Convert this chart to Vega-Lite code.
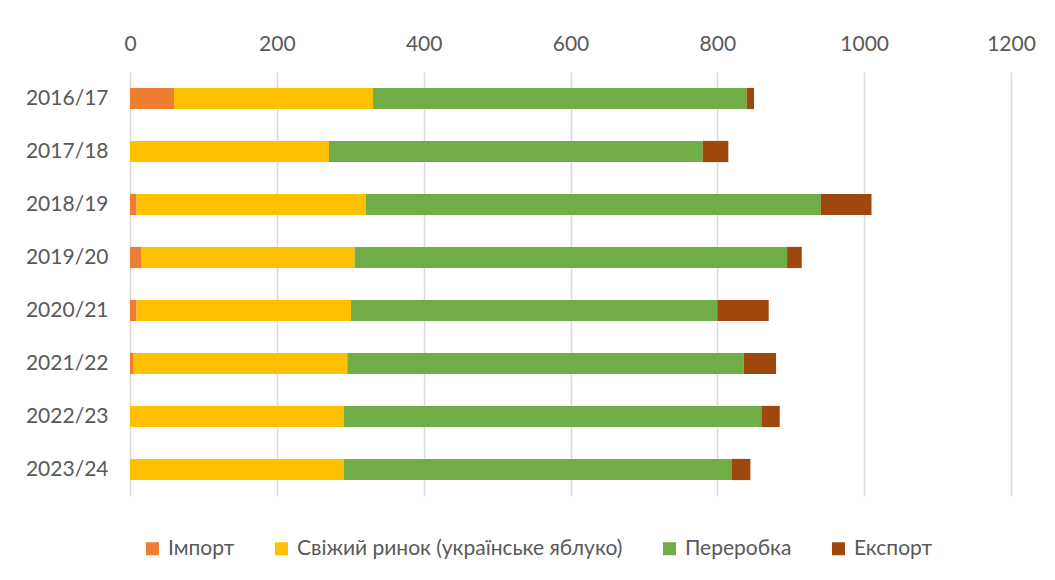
{
  "$schema": "https://vega.github.io/schema/vega-lite/v6.json",
  "width": 881,
  "height": 424,
  "padding": {"left": 130, "top": 72, "right": 44, "bottom": 84},
  "autosize": {"type": "none"},
  "background": "white",
  "config": {
    "font": "Lato",
    "view": {"stroke": null},
    "axis": {"labelColor": "#595959", "labelFont": "Lato", "labelFontSize": 21, "domain": false, "ticks": false}
  },
  "data": {
    "values": [
      {"season": "2016/17", "flow": "Імпорт", "k": 1, "v": 60},
      {"season": "2016/17", "flow": "Свіжий ринок (українське яблуко)", "k": 2, "v": 271},
      {"season": "2016/17", "flow": "Переробка", "k": 3, "v": 509},
      {"season": "2016/17", "flow": "Експорт", "k": 4, "v": 10},
      {"season": "2017/18", "flow": "Імпорт", "k": 1, "v": 0},
      {"season": "2017/18", "flow": "Свіжий ринок (українське яблуко)", "k": 2, "v": 271},
      {"season": "2017/18", "flow": "Переробка", "k": 3, "v": 509},
      {"season": "2017/18", "flow": "Експорт", "k": 4, "v": 35},
      {"season": "2018/19", "flow": "Імпорт", "k": 1, "v": 9},
      {"season": "2018/19", "flow": "Свіжий ринок (українське яблуко)", "k": 2, "v": 312},
      {"season": "2018/19", "flow": "Переробка", "k": 3, "v": 620},
      {"season": "2018/19", "flow": "Експорт", "k": 4, "v": 69},
      {"season": "2019/20", "flow": "Імпорт", "k": 1, "v": 15},
      {"season": "2019/20", "flow": "Свіжий ринок (українське яблуко)", "k": 2, "v": 291},
      {"season": "2019/20", "flow": "Переробка", "k": 3, "v": 589},
      {"season": "2019/20", "flow": "Експорт", "k": 4, "v": 20},
      {"season": "2020/21", "flow": "Імпорт", "k": 1, "v": 9},
      {"season": "2020/21", "flow": "Свіжий ринок (українське яблуко)", "k": 2, "v": 292},
      {"season": "2020/21", "flow": "Переробка", "k": 3, "v": 499},
      {"season": "2020/21", "flow": "Експорт", "k": 4, "v": 70},
      {"season": "2021/22", "flow": "Імпорт", "k": 1, "v": 5},
      {"season": "2021/22", "flow": "Свіжий ринок (українське яблуко)", "k": 2, "v": 291},
      {"season": "2021/22", "flow": "Переробка", "k": 3, "v": 540},
      {"season": "2021/22", "flow": "Експорт", "k": 4, "v": 44},
      {"season": "2022/23", "flow": "Імпорт", "k": 1, "v": 0},
      {"season": "2022/23", "flow": "Свіжий ринок (українське яблуко)", "k": 2, "v": 291},
      {"season": "2022/23", "flow": "Переробка", "k": 3, "v": 569},
      {"season": "2022/23", "flow": "Експорт", "k": 4, "v": 25},
      {"season": "2023/24", "flow": "Імпорт", "k": 1, "v": 0},
      {"season": "2023/24", "flow": "Свіжий ринок (українське яблуко)", "k": 2, "v": 291},
      {"season": "2023/24", "flow": "Переробка", "k": 3, "v": 529},
      {"season": "2023/24", "flow": "Експорт", "k": 4, "v": 25}
    ]
  },
  "mark": {"type": "bar"},
  "encoding": {
    "y": {
      "field": "season",
      "type": "nominal",
      "sort": null,
      "title": null,
      "scale": {"paddingInner": 0.6, "paddingOuter": 0.3},
      "axis": {"labelPadding": 22, "grid": false}
    },
    "x": {
      "field": "v",
      "type": "quantitative",
      "stack": "zero",
      "title": null,
      "scale": {"domain": [0, 1200], "nice": false},
      "axis": {
        "orient": "top",
        "values": [0, 200, 400, 600, 800, 1000, 1200],
        "format": "d",
        "labelFlush": false,
        "grid": true,
        "gridColor": "#d9d9d9",
        "gridWidth": 1.5,
        "labelPadding": 18
      }
    },
    "color": {
      "field": "flow",
      "type": "nominal",
      "title": null,
      "scale": {
        "domain": ["Імпорт", "Свіжий ринок (українське яблуко)", "Переробка", "Експорт"],
        "range": ["#ED7D31", "#FFC000", "#70AD47", "#9E480E"]
      },
      "legend": {
        "orient": "none",
        "legendX": 12,
        "legendY": 466,
        "direction": "horizontal",
        "symbolType": "square",
        "symbolSize": 169,
        "symbolStrokeWidth": 0,
        "columnPadding": 36,
        "labelOffset": 5,
        "labelFont": "Lato",
        "labelFontSize": 21,
        "labelColor": "#595959",
        "labelLimit": 500
      }
    },
    "order": {"field": "k", "type": "quantitative"}
  }
}
